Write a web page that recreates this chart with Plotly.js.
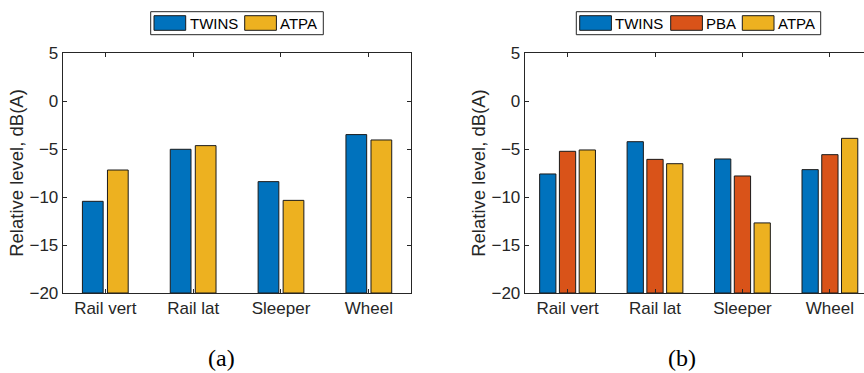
<!DOCTYPE html>
<html>
<head>
<meta charset="utf-8">
<script src="https://cdn.plot.ly/plotly-3.0.1.min.js"></script>
<style>html,body{margin:0;padding:0;background:#fff;}#chart{width:864px;height:373px;}</style>
</head>
<body>
<div id="chart"></div>
<script>
// ---- data ----
const categories = ['Rail vert', 'Rail lat', 'Sleeper', 'Wheel'];
const seriesA = ['TWINS', 'ATPA'];
const twinsA = [-10.45, -5.03, -8.4, -3.5];
const atpaA  = [-7.19, -4.65, -10.35, -4.06];
const seriesB = ['TWINS', 'PBA', 'ATPA'];
const twinsB = [-7.6, -4.24, -6.04, -7.15];
const pbaB   = [-5.24, -6.08, -7.81, -5.59];
const atpaB  = [-5.1, -6.53, -12.7, -3.89];
const yTicks = [5, 0, -5, -10, -15, -20];
const captions = ['(a)', '(b)'];
const yTitle = 'Relative level, dB(A)';

// ---- style ----
const BASE = -20;
const C = {TWINS: '#0072BD', PBA: '#D95319', ATPA: '#EDB120'};
const AX = '#262626';
const FONT = 'Arial, "Liberation Sans", sans-serif';
const W = 864, H = 373, T = 53, PH = 240;

function bar(name, vals, xa, ya, width, offset) {
  return {
    type: 'bar', name: name, x: categories,
    y: vals.map(v => v - BASE), base: BASE,
    customdata: vals, hovertemplate: '%{customdata}<extra>' + name + '</extra>',
    xaxis: xa, yaxis: ya, showlegend: false,
    width: width, offset: offset,
    marker: {color: C[name], line: {color: '#1a1a1a', width: 1}}
  };
}

const wA = 0.236, sA = 0.285;
const wB = 0.186, sB = 0.226;
const traces = [
  bar(seriesA[0], twinsA, 'x', 'y', wA, -sA / 2 - wA / 2),
  bar(seriesA[1], atpaA, 'x', 'y', wA, sA / 2 - wA / 2),
  bar(seriesB[0], twinsB, 'x2', 'y2', wB, -sB - wB / 2),
  bar(seriesB[1], pbaB, 'x2', 'y2', wB, -wB / 2),
  bar(seriesB[2], atpaB, 'x2', 'y2', wB, sB - wB / 2)
];

const xBase = {
  type: 'category', showline: true, linecolor: AX, linewidth: 1,
  ticks: 'inside', ticklen: 4, tickcolor: AX, mirror: 'ticks',
  tickfont: {family: FONT, size: 17, color: AX}, showgrid: false, zeroline: false,
  fixedrange: true
};
const yBase = {
  range: [-20, 5], tickvals: yTicks, showline: true, linecolor: AX, linewidth: 1,
  ticks: 'inside', ticklen: 4, tickcolor: AX,
  tickfont: {family: FONT, size: 17, color: AX}, showgrid: false, zeroline: false,
  title: {text: yTitle, font: {family: FONT, size: 18.5, color: AX}, standoff: 0},
  fixedrange: true
};

// ---- custom legends (pixel layout -> paper coords) ----
const px = x => x / W;
const py = y => (T + PH - y) / PH;
const shapes = [], annotations = [];
function legend(box, swatchX, textX, names) {
  shapes.push({type: 'rect', xref: 'paper', yref: 'paper', x0: px(box[0]), x1: px(box[1]),
    y0: py(34.7), y1: py(11.7), line: {color: AX, width: 1}, fillcolor: '#fff', layer: 'above'});
  names.forEach((n, i) => {
    shapes.push({type: 'rect', xref: 'paper', yref: 'paper', x0: px(swatchX[i]), x1: px(swatchX[i] + 31.7),
      y0: py(30.3), y1: py(15.7), line: {color: '#1a1a1a', width: 1}, fillcolor: C[n], layer: 'above'});
    annotations.push({text: n, xref: 'paper', yref: 'paper', x: px(textX[i]), y: py(23.2),
      xanchor: 'left', yanchor: 'middle', showarrow: false,
      font: {family: FONT, size: 15, color: '#000'}, xshift: -1});
  });
}
legend([150.7, 323.3], [154, 244.7], [188.5, 279], seriesA);
legend([576.3, 820.7], [579.7, 670.7, 742.3], [613.8, 704.8, 776.8], seriesB);

[[captions[0], 221], [captions[1], 682]].forEach(([t, x]) => {
  annotations.push({text: t, xref: 'paper', yref: 'paper', x: px(x), y: py(358), yanchor: 'middle',
    xanchor: 'center', showarrow: false,
    font: {family: '"Liberation Serif", "Times New Roman", serif', size: 24, color: '#000'}});
});

const layout = {
  width: W, height: H,
  margin: {l: 0, r: 0, t: T, b: H - T - PH},
  paper_bgcolor: '#fff', plot_bgcolor: '#fff',
  barmode: 'overlay',
  showlegend: false,
  xaxis: Object.assign({}, xBase, {domain: [62.7 / W, 411 / W], range: [-0.485, 3.48], anchor: 'y'}),
  yaxis: Object.assign({}, yBase, {anchor: 'x', mirror: 'ticks'}),
  xaxis2: Object.assign({}, xBase, {domain: [524.7 / W, 1], range: [-0.49, 3.39], anchor: 'y2'}),
  yaxis2: Object.assign({}, yBase, {anchor: 'x2', mirror: false}),
  shapes: shapes,
  annotations: annotations
};

Plotly.newPlot('chart', traces, layout, {displayModeBar: false, staticPlot: true});
</script>
</body>
</html>
